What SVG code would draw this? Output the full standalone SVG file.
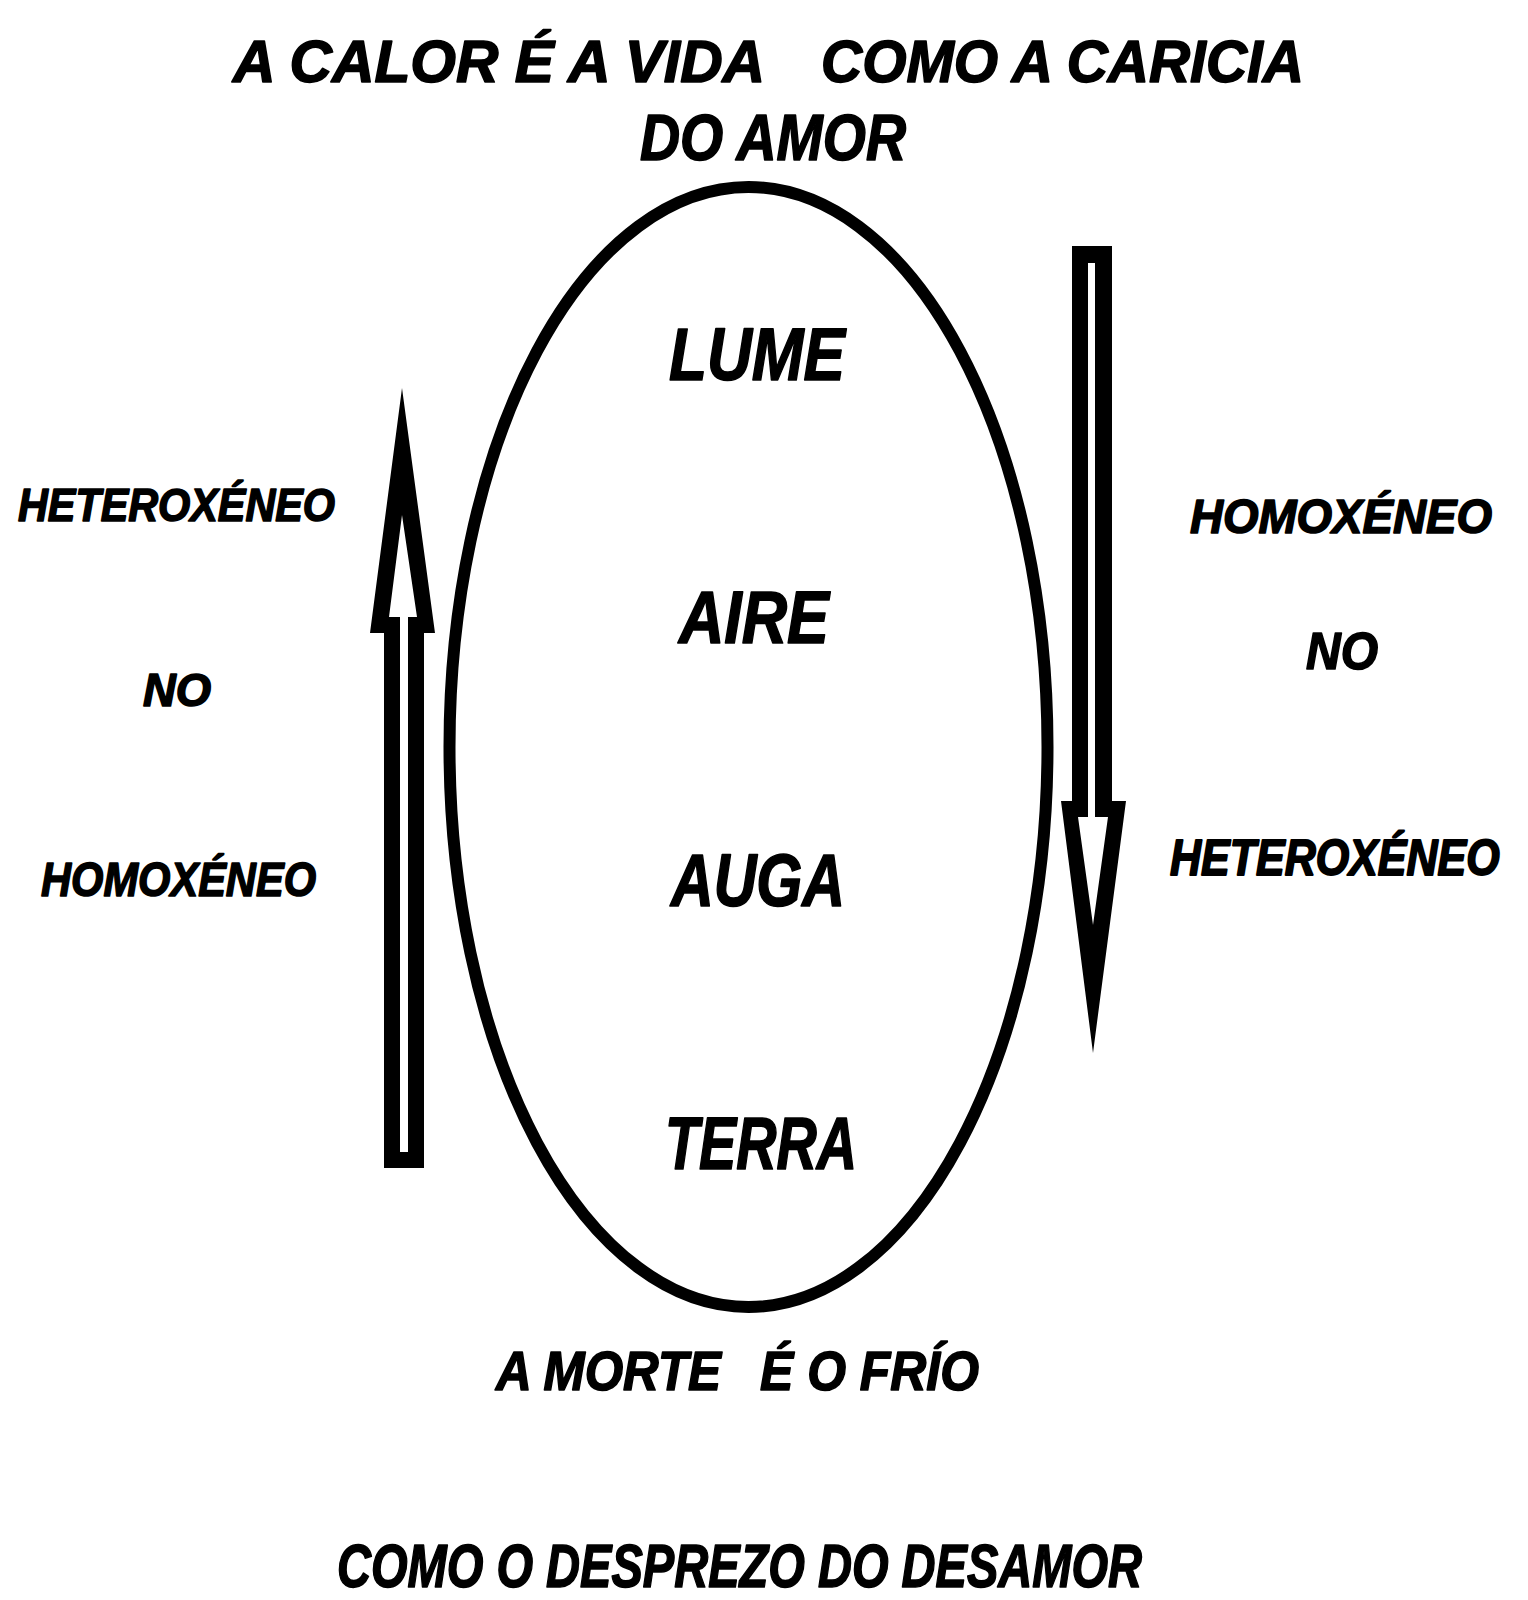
<svg xmlns="http://www.w3.org/2000/svg" width="1528" height="1600" viewBox="0 0 1528 1600">
<style>
text{font-family:"Liberation Sans","Arial",sans-serif;font-weight:bold;font-style:italic;fill:#000;stroke:#000;stroke-width:1.6;stroke-linejoin:round}
.el{fill:none;stroke:#000;stroke-width:12}
.blk{fill:#000}
.wht{fill:#fff}
</style>
<rect x="0" y="0" width="1528" height="1600" fill="#fff"/>
<g id="title">
<text x="233" y="82" font-size="60" textLength="532" lengthAdjust="spacingAndGlyphs">A CALOR É A VIDA</text>
<text x="821" y="82" font-size="60" textLength="483" lengthAdjust="spacingAndGlyphs">COMO A CARICIA</text>
<text x="640" y="160" font-size="64" textLength="266" lengthAdjust="spacingAndGlyphs">DO AMOR</text>
</g>
<g id="ellipse-node">
<ellipse class="el" cx="748.5" cy="747" rx="299" ry="560"/>
</g>
<g id="lume"><text x="669" y="380" font-size="74" textLength="176" lengthAdjust="spacingAndGlyphs">LUME</text></g>
<g id="aire"><text x="679" y="643" font-size="74" textLength="150" lengthAdjust="spacingAndGlyphs">AIRE</text></g>
<g id="auga"><text x="671" y="906" font-size="74" textLength="174" lengthAdjust="spacingAndGlyphs">AUGA</text></g>
<g id="terra"><text x="665" y="1169" font-size="74" textLength="192" lengthAdjust="spacingAndGlyphs">TERRA</text></g>
<g id="left-labels">
<text x="18" y="521" font-size="47" textLength="317" lengthAdjust="spacingAndGlyphs">HETEROXÉNEO</text>
<text x="143" y="706" font-size="47" textLength="68" lengthAdjust="spacingAndGlyphs">NO</text>
<text x="41" y="896" font-size="49" textLength="275" lengthAdjust="spacingAndGlyphs">HOMOXÉNEO</text>
</g>
<g id="right-labels">
<text x="1492" y="533" font-size="49" text-anchor="end" textLength="302" lengthAdjust="spacingAndGlyphs">HOMOXÉNEO</text>
<text x="1306" y="669" font-size="52" textLength="72" lengthAdjust="spacingAndGlyphs">NO</text>
<text transform="translate(1170,875) scale(1,1.14)" x="0" y="0" font-size="43">HETEROXÉNEO</text>
</g>
<g id="bottom">
<text x="496" y="1390" font-size="56" textLength="225" lengthAdjust="spacingAndGlyphs">A MORTE</text>
<text x="760" y="1390" font-size="56" textLength="219" lengthAdjust="spacingAndGlyphs">É O FRÍO</text>
<text x="337" y="1587" font-size="62" textLength="805" lengthAdjust="spacingAndGlyphs">COMO O DESPREZO DO DESAMOR</text>
</g>
<g id="connectors">
<g id="arrow-up">
<polygon class="blk" points="402,388 435,633 424,633 424,1168 384,1168 384,633 370,633"/>
<polygon class="wht" points="402,515 417,617 408,617 408,1152 400,1152 400,617 389,617"/>
</g>
<g id="arrow-down">
<polygon class="blk" points="1072,246 1112,246 1112,801 1126,801 1093,1053 1061,801 1072,801"/>
<polygon class="wht" points="1088,263 1095,263 1095,817 1108,817 1093,925 1078,817 1088,817"/>
</g>
</g>
</svg>
